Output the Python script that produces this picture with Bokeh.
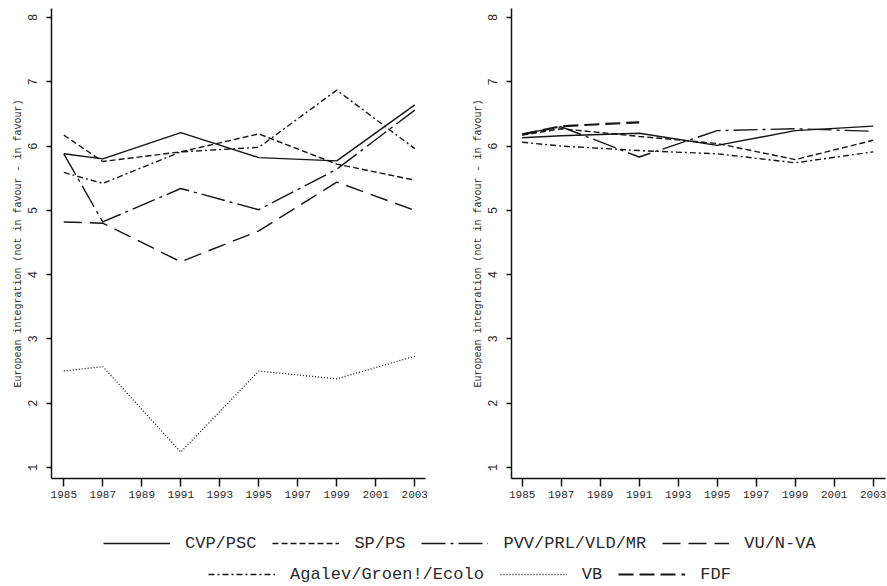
from bokeh.plotting import figure
from bokeh.models import Range1d, Legend, LegendItem, ColumnDataSource
from bokeh.layouts import column, row
from bokeh.embed import file_html
from bokeh.resources import INLINE

# ---------------- data ----------------
years = [1985, 1987, 1991, 1995, 1999, 2003]
years_fdf = [1985, 1987, 1991]
x_ticks = [1985, 1987, 1989, 1991, 1993, 1995, 1997, 1999, 2001, 2003]
y_ticks = [1, 2, 3, 4, 5, 6, 7, 8]

# Flemish parties (left panel)
cvp = [5.88, 5.80, 6.21, 5.82, 5.77, 6.64]
sp = [6.17, 5.76, 5.91, 6.19, 5.72, 5.47]
pvv = [5.88, 4.82, 5.34, 5.01, 5.64, 6.56]
vu = [4.82, 4.80, 4.20, 4.68, 5.44, 5.00]
agalev = [5.59, 5.42, 5.91, 5.98, 6.87, 5.96]
vb = [2.50, 2.57, 1.24, 2.50, 2.38, 2.73]

# Francophone parties (right panel)
psc = [6.13, 6.16, 6.20, 6.01, 6.24, 6.31]
ps = [6.17, 6.27, 6.15, 6.04, 5.79, 6.09]
prl = [6.19, 6.30, 5.83, 6.24, 6.27, 6.23]
ecolo = [6.06, 6.00, 5.93, 5.88, 5.74, 5.91]
fdf = [6.18, 6.31, 6.37]

names = ["CVP/PSC", "SP/PS", "PVV/PRL/VLD/MR", "VU/N-VA",
         "Agalev/Groen!/Ecolo", "VB", "FDF"]
y_label = "European integration (not in favour - in favour)"

# ---------------- styles ----------------
LC = "#151515"
FONT = "Liberation Mono"
TXT = "#2a2a2a"
styles = {
    "CVP/PSC": dict(line_dash="solid", line_width=1.4, line_color=LC),
    "SP/PS": dict(line_dash="6 3", line_width=1.4, line_color=LC),
    "PVV/PRL/VLD/MR": dict(line_dash="24 5 3 5", line_width=1.4, line_color=LC),
    "VU/N-VA": dict(line_dash="18 8", line_width=1.4, line_color=LC),
    "Agalev/Groen!/Ecolo": dict(line_dash="6 3 2 3", line_width=1.4, line_color=LC),
    "VB": dict(line_dash="1 2", line_width=1.3, line_color=LC),
    "FDF": dict(line_dash="15 6", line_width=2.2, line_color=LC),
}

left_series = [("CVP/PSC", years, cvp), ("SP/PS", years, sp),
               ("PVV/PRL/VLD/MR", years, pvv), ("VU/N-VA", years, vu),
               ("Agalev/Groen!/Ecolo", years, agalev), ("VB", years, vb)]
right_series = [("CVP/PSC", years, psc), ("SP/PS", years, ps),
                ("PVV/PRL/VLD/MR", years, prl),
                ("Agalev/Groen!/Ecolo", years, ecolo), ("FDF", years_fdf, fdf)]


def panel(series, x0, x1, border_left, border_right):
    p = figure(output_backend="svg", toolbar_location=None,
               x_range=Range1d(x0, x1), y_range=Range1d(0.829, 8.14),
               frame_width=374, frame_height=470,
               min_border_left=border_left, min_border_right=border_right,
               min_border_top=8, min_border_bottom=27)
    p.outline_line_color = None
    p.xgrid.visible = False
    p.ygrid.visible = False
    for name, xs, ys in series:
        p.line(xs, ys, **styles[name])
    for ax in (p.xaxis[0], p.yaxis[0]):
        ax.axis_line_width = 1.5
        ax.axis_line_color = "#111111"
        ax.major_tick_line_width = 1.5
        ax.major_tick_line_color = "#111111"
        ax.major_tick_in = 0
        ax.minor_tick_line_color = None
        ax.major_label_text_font = FONT
        ax.major_label_text_color = TXT
    p.xaxis.ticker = x_ticks
    p.yaxis.ticker = y_ticks
    p.xaxis.major_label_text_font_size = "11px"
    p.yaxis.major_label_text_font_size = "12px"
    p.xaxis.major_tick_out = 8
    p.xaxis.major_label_standoff = 4
    p.yaxis.major_tick_out = 5
    p.yaxis.major_label_standoff = 9
    p.yaxis.major_label_orientation = "parallel"
    p.yaxis.axis_label = y_label
    p.yaxis.axis_label_text_font = FONT
    p.yaxis.axis_label_text_font_size = "10px"
    p.yaxis.axis_label_text_font_style = "normal"
    p.yaxis.axis_label_text_color = TXT
    p.yaxis.axis_label_standoff = 2
    return p


p1 = panel(left_series, 1984.37, 2003.55, 51, 43)
p2 = panel(right_series, 1984.45, 2003.63, 43, 2)

# ---------------- legend ----------------
pl = figure(output_backend="svg", toolbar_location=None,
            x_range=Range1d(0, 1), y_range=Range1d(0, 1),
            frame_width=834, frame_height=81,
            min_border_left=51, min_border_right=2,
            min_border_top=0, min_border_bottom=0,
            x_axis_location=None, y_axis_location=None)
pl.outline_line_color = None
pl.xgrid.visible = False
pl.ygrid.visible = False
nan = float("nan")
rends = {}
for n in names:
    src = ColumnDataSource(data=dict(x=[nan], y=[nan]))
    rends[n] = pl.line("x", "y", source=src, **styles[n])


def make_legend(items, loc):
    lg = Legend(items=[LegendItem(label=n, renderers=[rends[n]]) for n in items],
                location=loc, orientation="horizontal", margin=0,
                padding=0, spacing=16, label_standoff=15,
                glyph_width=67, glyph_height=20, label_height=20,
                label_text_font=FONT, label_text_font_size="17px",
                label_text_color=TXT, border_line_color=None,
                background_fill_alpha=0)
    return lg


pl.add_layout(make_legend(names[:4], (52, 33)), "center")
pl.add_layout(make_legend(names[4:], (157, 2)), "center")

layout = column(row(p1, p2), pl)
open("out.html", "w").write(file_html(layout, INLINE))
